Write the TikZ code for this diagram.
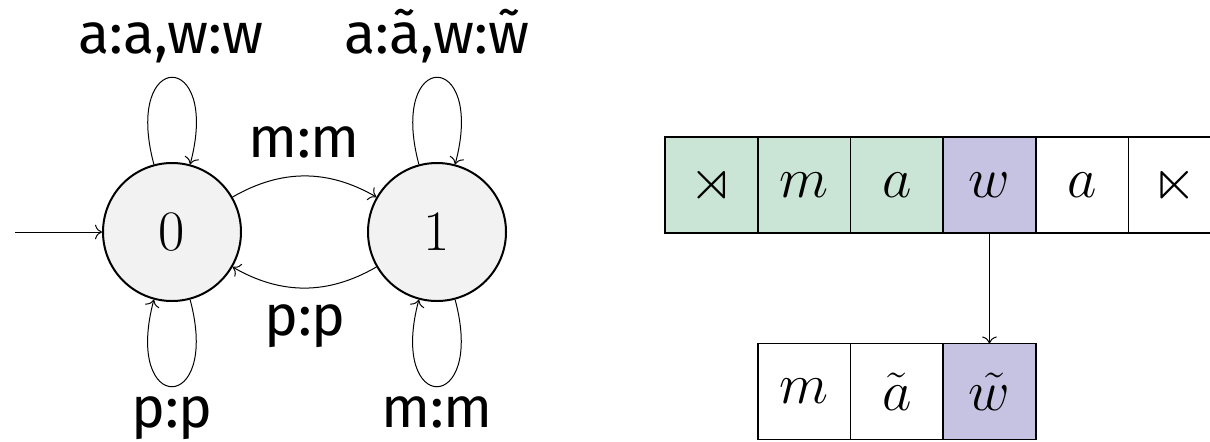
\RequirePackage{fix-cm}
\documentclass[tikz,border=0pt]{standalone}
\usepackage{amsmath,amssymb}
\usepackage{fontspec}
\setmainfont{Fira Sans}
\usetikzlibrary{arrows.meta}
\definecolor{tgreen}{RGB}{202,229,213}
\definecolor{tpurple}{RGB}{198,194,225}
\begin{document}
\begin{tikzpicture}[x=0.5pt,y=-0.5pt,
  big/.style={font=\fontsize{28.6}{34}\selectfont},
  statebox/.style={circle,draw,line width=1pt,fill=gray!10,minimum size=69pt,inner sep=0pt,big},
  trans/.style={line width=0.5pt,-{To[scale=1.3]}},
  selfloop/.style={looseness=8.5},
  lbl/.style={big,anchor=base,inner sep=0pt},
  cell/.style={draw,line width=0.9pt,minimum width=46.35pt,minimum height=48pt,inner sep=0pt,outer sep=0pt,big}]
\useasboundingbox (0,0) rectangle (1210,441);
\clip (0,0) rectangle (1210,441);
% automaton
\node[statebox] (q0) at (172,232) {$0$};
\node[statebox] (q1) at (437,232) {$1$};
\coordinate (init) at (15,232);
\draw[trans] (init) -- (q0);
\draw[trans] (q0) to[loop above,selfloop] (q0);
\draw[trans] (q0) to[loop below,selfloop] (q0);
\draw[trans] (q1) to[loop above,selfloop] (q1);
\draw[trans] (q1) to[loop below,selfloop] (q1);
\draw[trans] (q0) to[bend left=30] (q1);
\draw[trans] (q1) to[bend left=30] (q0);
\node[lbl] (l00) at (171,53) {a:a,w:w};
\node[lbl] (l11) at (437,53) {a:ã,w:w̃};
\node[lbl] (l01) at (304,157) {m:m};
\node[lbl] (l10) at (305,335) {p:p};
\node[lbl] (l0b) at (172,427) {p:p};
\node[lbl] (l1b) at (437,427) {m:m};
% tape
\node[cell,fill=tgreen] (t1) at (711.35,185) {$\rtimes$};
\node[cell,fill=tgreen] (t2) at (804.05,185) {$m$};
\node[cell,fill=tgreen] (t3) at (896.75,185) {$a$};
\node[cell,fill=tpurple] (t4) at (989.45,185) {$w$};
\node[cell] (t5) at (1082.15,185) {$a$};
\node[cell] (t6) at (1174.85,185) {$\ltimes$};
\node[cell] (b1) at (804.05,391.5) {$m$};
\node[cell] (b2) at (896.75,391.5) {$\tilde{a}$};
\node[cell,fill=tpurple] (b3) at (989.45,391.5) {$\tilde{w}$};
\draw[trans] (t4) -- (b3);
\end{tikzpicture}
\end{document}
